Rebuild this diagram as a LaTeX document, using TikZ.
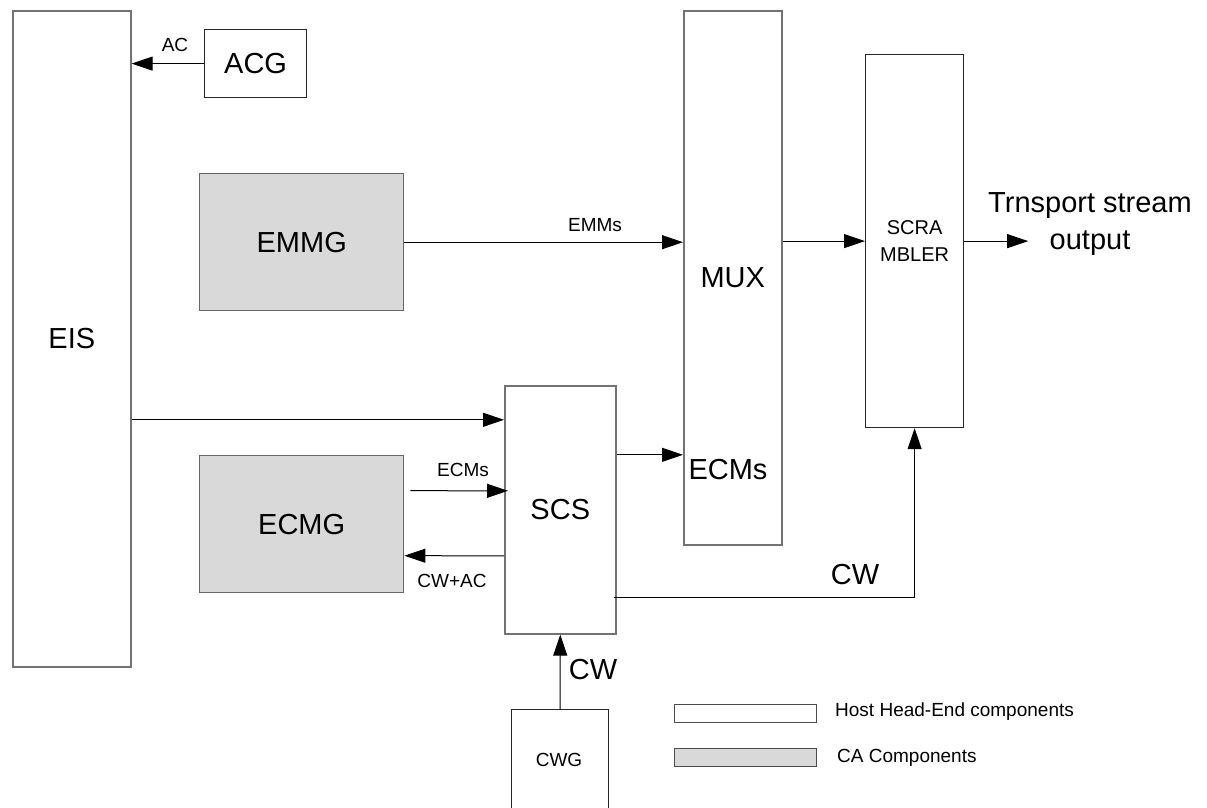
\documentclass[tikz,border=0pt]{standalone}
\usepackage{fontspec}
\setmainfont{Liberation Sans}
\usetikzlibrary{arrows.meta}
\tikzset{
  gbox/.style={draw=black!55, line width=1.6pt, inner sep=0pt},
  kbox/.style={draw=black!85, line width=1.2pt, inner sep=0pt},
  cabox/.style={draw=black!60, fill=black!15, line width=1.4pt, inner sep=0pt},
  arr/.style={draw=black, line width=1pt, -{Triangle[length=21pt,width=14pt]}},
  big/.style={font=\fontsize{29}{33}\selectfont, inner sep=0pt},
  mid/.style={font=\fontsize{20}{27}\selectfont, inner sep=0pt, align=center},
  small/.style={font=\fontsize{19}{22}\selectfont, inner sep=0pt},
}
\begin{document}
\begin{tikzpicture}[x=1pt,y=-1pt]
\clip (0,0) rectangle (1207,807);
\fill[white] (0,0) rectangle (1207,807);
% boxes
\node[gbox, minimum width=118pt, minimum height=656pt, anchor=north west, big] (eis) at (12,10) {EIS};
\node[kbox, minimum width=102pt, minimum height=68pt, anchor=north west, big] (acg) at (204,29) {ACG};
\node[cabox, minimum width=204pt, minimum height=137pt, anchor=north west, big] (emmg) at (199,173) {EMMG};
\node[cabox, minimum width=204pt, minimum height=137pt, anchor=north west, big] (ecmg) at (199,455) {ECMG};
\node[gbox, minimum width=98pt, minimum height=534pt, anchor=north west, big] (mux) at (683,10) {MUX};
\node[big] (muxe) at (728,470) {ECMs};
\node[kbox, minimum width=98pt, minimum height=373pt, anchor=north west, mid] (scr) at (865,54) {SCRA\\MBLER};
\node[gbox, minimum width=111pt, minimum height=248pt, anchor=north west, big] (scs) at (504,385) {SCS};
\node[kbox, minimum width=97pt, minimum height=120pt, anchor=north west] (cwg) at (511,709) {};
\node[small] (cwgt) at (559,760) {CWG};
\node[big, align=center, font=\fontsize{29}{37}\selectfont] (ts) at (1090,224) {Trnsport stream\\output};
% connectors
\draw[arr] (acg.west) -- (acg.west -| eis.east);
\node[small] (acl) at (175,45) {AC};
\draw[arr] (emmg.east) -- (emmg.east -| mux.west);
\node[small] (emml) at (595,225) {EMMs};
\draw[arr] (mux.east |- scr.west) -- (scr.west);
\coordinate (out) at ([xshift=64pt]scr.east);
\draw[arr] (scr.east) -- (out);
\draw[arr] ([yshift=-81pt]eis.east) -- ([yshift=-81pt]eis.east -| scs.west);
\draw[arr] ([xshift=6pt,yshift=33.5pt]ecmg.east) -- ([xshift=4pt,yshift=19pt]scs.west);
\node[small] (ecml) at (463,470) {ECMs};
\draw[arr] ([yshift=-46pt]scs.west) -- ([yshift=-31.5pt]ecmg.east);
\node[small] (cwacl) at (452,581) {CW+AC};
\draw[arr] ([yshift=55pt]scs.east) -- ([yshift=55pt]scs.east -| mux.west);
\draw[arr] ([xshift=-3pt,yshift=-88pt]scs.east) -| (scr.south);
\node[big] (cwl1) at (855,575) {CW};
\draw[arr] (cwg.north) -- (scs.south);
\node[big] (cwl2) at (593,670) {CW};
% legend
\node[kbox, draw=black!70, minimum width=142pt, minimum height=18pt, anchor=north west] (lg1) at (674,704) {};
\node[small, anchor=west] (lg1t) at (835,712) {Host Head-End components};
\node[cabox, draw=black!70, minimum width=142pt, minimum height=18pt, anchor=north west] (lg2) at (674,748) {};
\node[small, anchor=west] (lg2t) at (837,758) {CA Components};
\end{tikzpicture}
\end{document}
